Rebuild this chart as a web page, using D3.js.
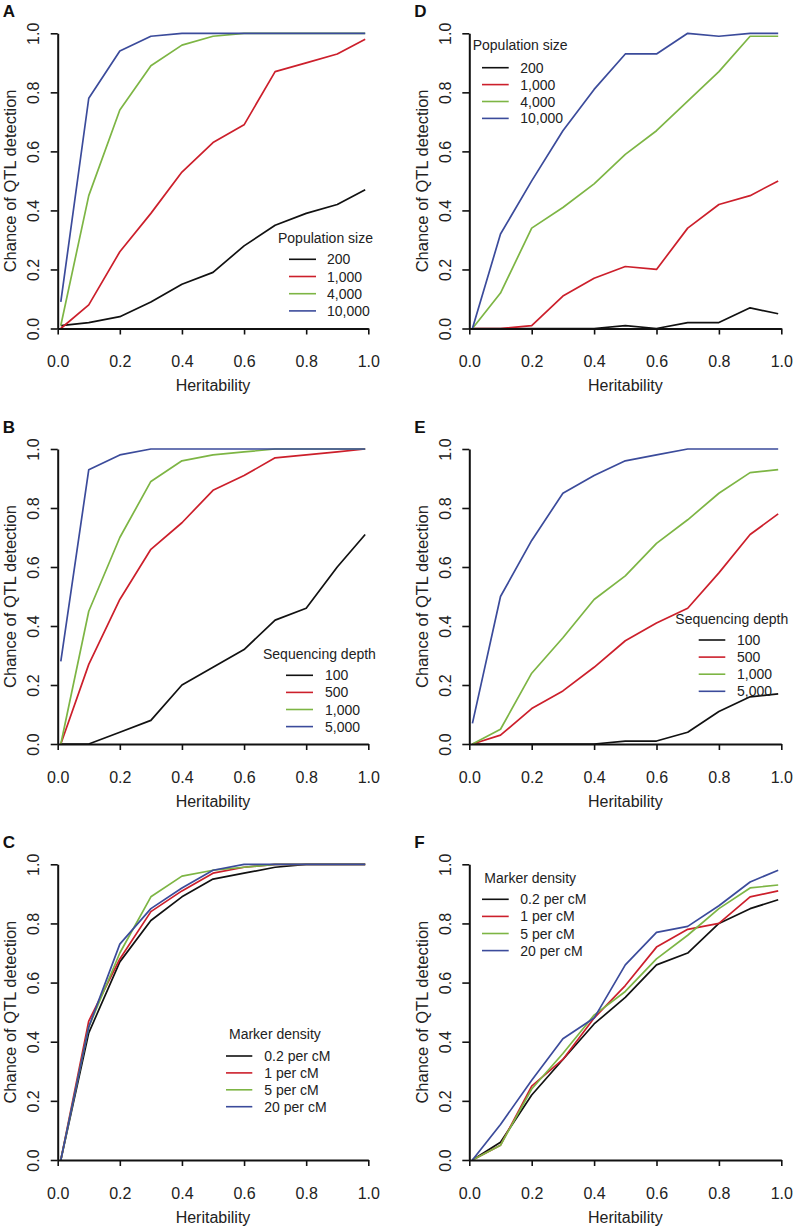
<!DOCTYPE html>
<html>
<head>
<meta charset="utf-8">
<script src="https://cdn.jsdelivr.net/npm/d3@7"></script>
<style>
  html, body { margin: 0; padding: 0; background: #fff; }
  svg { display: block; font-family: "Liberation Sans", Arial, Helvetica, sans-serif; }
</style>
</head>
<body>
<svg id="chart" width="794" height="1227"></svg>
<script>
// ---------- DATA ----------
const heritability = [0.01, 0.1, 0.2, 0.3, 0.4, 0.5, 0.6, 0.7, 0.8, 0.9, 0.99];
const xTickValues = [0, 0.2, 0.4, 0.6, 0.8, 1.0];
const yTickValues = [0, 0.2, 0.4, 0.6, 0.8, 1.0];
const xAxisTitle = "Heritability";
const yAxisTitle = "Chance of QTL detection";

const popSizeTitle = "Population size";
const popSizeLabels = ["200", "1,000", "4,000", "10,000"];
const depthTitle = "Sequencing depth";
const depthLabels = ["100", "500", "1,000", "5,000"];
const densityTitle = "Marker density";
const densityLabels = ["0.2 per cM", "1 per cM", "5 per cM", "20 per cM"];

const seriesColors = ["#111111", "#cc1f2b", "#7db544", "#3b4b9b"];

// Panel A: population size
const panelA_200   = [0.01, 0.02, 0.04, 0.09, 0.15, 0.19, 0.28, 0.35, 0.39, 0.42, 0.47];
const panelA_1000  = [0.00, 0.08, 0.26, 0.39, 0.53, 0.63, 0.69, 0.87, 0.90, 0.93, 0.98];
const panelA_4000  = [0.01, 0.45, 0.74, 0.89, 0.96, 0.99, 1.00, 1.00, 1.00, 1.00, 1.00];
const panelA_10000 = [0.09, 0.78, 0.94, 0.99, 1.00, 1.00, 1.00, 1.00, 1.00, 1.00, 1.00];

// Panel B: sequencing depth
const panelB_100  = [0.00, 0.00, 0.04, 0.08, 0.20, 0.26, 0.32, 0.42, 0.46, 0.60, 0.71];
const panelB_500  = [0.00, 0.27, 0.49, 0.66, 0.75, 0.86, 0.91, 0.97, 0.98, 0.99, 1.00];
const panelB_1000 = [0.00, 0.45, 0.70, 0.89, 0.96, 0.98, 0.99, 1.00, 1.00, 1.00, 1.00];
const panelB_5000 = [0.28, 0.93, 0.98, 1.00, 1.00, 1.00, 1.00, 1.00, 1.00, 1.00, 1.00];

// Panel C: marker density
const panelC_02 = [0.00, 0.43, 0.67, 0.81, 0.89, 0.95, 0.97, 0.99, 1.00, 1.00, 1.00];
const panelC_1  = [0.00, 0.47, 0.68, 0.84, 0.91, 0.97, 0.99, 1.00, 1.00, 1.00, 1.00];
const panelC_5  = [0.00, 0.45, 0.70, 0.89, 0.96, 0.98, 0.99, 1.00, 1.00, 1.00, 1.00];
const panelC_20 = [0.00, 0.45, 0.73, 0.85, 0.92, 0.98, 1.00, 1.00, 1.00, 1.00, 1.00];

// Panel D: population size
const panelD_200   = [0.00, 0.00, 0.00, 0.00, 0.00, 0.01, 0.00, 0.02, 0.02, 0.07, 0.05];
const panelD_1000  = [0.00, 0.00, 0.01, 0.11, 0.17, 0.21, 0.20, 0.34, 0.42, 0.45, 0.50];
const panelD_4000  = [0.00, 0.12, 0.34, 0.41, 0.49, 0.59, 0.67, 0.77, 0.87, 0.99, 0.99];
const panelD_10000 = [0.00, 0.32, 0.50, 0.67, 0.81, 0.93, 0.93, 1.00, 0.99, 1.00, 1.00];

// Panel E: sequencing depth
const panelE_100  = [0.00, 0.00, 0.00, 0.00, 0.00, 0.01, 0.01, 0.04, 0.11, 0.16, 0.17];
const panelE_500  = [0.00, 0.03, 0.12, 0.18, 0.26, 0.35, 0.41, 0.46, 0.58, 0.71, 0.78];
const panelE_1000 = [0.00, 0.05, 0.24, 0.36, 0.49, 0.57, 0.68, 0.76, 0.85, 0.92, 0.93];
const panelE_5000 = [0.07, 0.50, 0.69, 0.85, 0.91, 0.96, 0.98, 1.00, 1.00, 1.00, 1.00];

// Panel F: marker density
const panelF_02 = [0.00, 0.06, 0.22, 0.34, 0.46, 0.55, 0.66, 0.70, 0.80, 0.85, 0.88];
const panelF_1  = [0.00, 0.05, 0.25, 0.34, 0.48, 0.59, 0.72, 0.78, 0.80, 0.89, 0.91];
const panelF_5  = [0.00, 0.05, 0.24, 0.36, 0.49, 0.57, 0.68, 0.76, 0.85, 0.92, 0.93];
const panelF_20 = [0.00, 0.12, 0.27, 0.41, 0.48, 0.66, 0.77, 0.79, 0.86, 0.94, 0.98];

// ---------- LAYOUT ----------
const panels = [
  { letter: "A", x0: 57.7, x1: 368.3, y0: 328.5, y1: 33.3,
    series: [panelA_200, panelA_1000, panelA_4000, panelA_10000],
    legendTitle: popSizeTitle, legendLabels: popSizeLabels,
    leg: { tx: 278, ty: 238.3, lx1: 289, lx2: 316, textX: 327, row0: 259.3, dy: 17.2 } },
  { letter: "B", x0: 57.7, x1: 368.3, y0: 744, y1: 449,
    series: [panelB_100, panelB_500, panelB_1000, panelB_5000],
    legendTitle: depthTitle, legendLabels: depthLabels,
    leg: { tx: 263, ty: 654, lx1: 286, lx2: 313, textX: 325, row0: 675.3, dy: 17.1 } },
  { letter: "C", x0: 57.7, x1: 368.3, y0: 1160, y1: 864.3,
    series: [panelC_02, panelC_1, panelC_5, panelC_20],
    legendTitle: densityTitle, legendLabels: densityLabels,
    leg: { tx: 229, ty: 1034, lx1: 226, lx2: 252.3, textX: 264.3, row0: 1056, dy: 16.9 } },
  { letter: "D", x0: 469.3, x1: 781.3, y0: 328.5, y1: 33.3,
    series: [panelD_200, panelD_1000, panelD_4000, panelD_10000],
    legendTitle: popSizeTitle, legendLabels: popSizeLabels,
    leg: { tx: 472.7, ty: 45, lx1: 482, lx2: 508.7, textX: 520.3, row0: 67.7, dy: 16.9 } },
  { letter: "E", x0: 469.3, x1: 781.3, y0: 744, y1: 449,
    series: [panelE_100, panelE_500, panelE_1000, panelE_5000],
    legendTitle: depthTitle, legendLabels: depthLabels,
    leg: { tx: 675.3, ty: 619, lx1: 698.7, lx2: 725.3, textX: 737, row0: 640, dy: 17.1 } },
  { letter: "F", x0: 469.3, x1: 781.3, y0: 1160, y1: 864.3,
    series: [panelF_02, panelF_1, panelF_5, panelF_20],
    legendTitle: densityTitle, legendLabels: densityLabels,
    leg: { tx: 484.3, ty: 877.7, lx1: 482, lx2: 508.7, textX: 520.3, row0: 899.3, dy: 17.1 } }
];

const svg = d3.select("#chart");
svg.append("rect").attr("width", 794).attr("height", 1227).attr("fill", "#fff");

panels.forEach(p => {
  const g = svg.append("g");
  const x = d3.scaleLinear().domain([0, 1]).range([p.x0, p.x1]);
  const y = d3.scaleLinear().domain([0, 1]).range([p.y0, p.y1]);

  // lines
  const line = d3.line().x((d, i) => x(heritability[i])).y(d => y(d));
  p.series.forEach((s, i) => {
    g.append("path").datum(s)
      .attr("d", line)
      .attr("fill", "none")
      .attr("stroke", seriesColors[i])
      .attr("stroke-width", 1.7)
      .attr("stroke-linejoin", "round");
  });

  // x axis
  const xAxis = d3.axisBottom(x).tickValues(xTickValues).tickFormat(d3.format(".1f"))
    .tickSizeInner(6).tickSizeOuter(0).tickPadding(23);
  const gx = g.append("g").attr("transform", `translate(0,${p.y0})`).call(xAxis);
  gx.select(".domain").attr("stroke", "#111").attr("stroke-width", 2);
  gx.selectAll(".tick line").attr("stroke", "#111").attr("stroke-width", 1.6);
  gx.selectAll(".tick text").attr("font-size", 16).attr("fill", "#222")
    .attr("font-family", "Liberation Sans, Arial, sans-serif")
    .attr("dy", null).attr("y", 33).attr("dominant-baseline", "central");

  // y axis
  const yAxis = d3.axisLeft(y).tickValues(yTickValues).tickFormat(d3.format(".1f"))
    .tickSizeInner(7).tickSizeOuter(0);
  const gy = g.append("g").attr("transform", `translate(${p.x0},0)`).call(yAxis);
  gy.select(".domain").attr("stroke", "#111").attr("stroke-width", 2);
  gy.selectAll(".tick line").attr("stroke", "#111").attr("stroke-width", 1.6);
  gy.selectAll(".tick text").attr("font-size", 16).attr("fill", "#222")
    .attr("font-family", "Liberation Sans, Arial, sans-serif")
    .attr("x", null).attr("dy", null)
    .attr("text-anchor", "middle").attr("dominant-baseline", "central")
    .attr("transform", "translate(-24,0) rotate(-90)");

  // axis titles
  g.append("text")
    .attr("x", (p.x0 + p.x1) / 2).attr("y", p.y0 + 57)
    .attr("text-anchor", "middle").attr("dominant-baseline", "central")
    .attr("font-size", 16).attr("fill", "#222").text(xAxisTitle);
  g.append("text")
    .attr("transform", `translate(${p.x0 - 47.5},${(p.y0 + p.y1) / 2}) rotate(-90)`)
    .attr("text-anchor", "middle").attr("dominant-baseline", "central")
    .attr("font-size", 16.5).attr("fill", "#222").text(yAxisTitle);

  // panel letter
  g.append("text")
    .attr("x", p.x0 - 55).attr("y", p.y1 - 16.5)
    .attr("font-size", 17).attr("font-weight", "bold").attr("fill", "#111")
    .text(p.letter);

  // legend
  const L = p.leg;
  g.append("text").attr("x", L.tx).attr("y", L.ty)
    .attr("dominant-baseline", "central").attr("font-size", 14).attr("fill", "#222")
    .text(p.legendTitle);
  p.legendLabels.forEach((lab, i) => {
    const ry = L.row0 + i * L.dy;
    g.append("line").attr("x1", L.lx1).attr("x2", L.lx2).attr("y1", ry).attr("y2", ry)
      .attr("stroke", seriesColors[i]).attr("stroke-width", 1.6);
    g.append("text").attr("x", L.textX).attr("y", ry)
      .attr("dominant-baseline", "central").attr("font-size", 14).attr("fill", "#222")
      .text(lab);
  });
});
</script>
</body>
</html>
